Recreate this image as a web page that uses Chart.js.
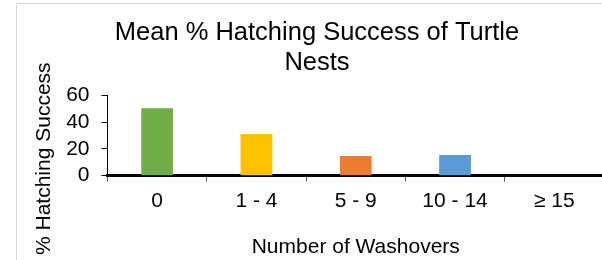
<!DOCTYPE html>
<html>
<head>
<meta charset="utf-8">
<script src="https://cdn.jsdelivr.net/npm/chart.js@4.4.1/dist/chart.umd.min.js"></script>
<style>
  html, body { margin: 0; padding: 0; background: #fff; overflow: hidden; width: 602px; height: 260px; }
  #frame { position: absolute; left: 16px; top: 3px; width: 620px; height: 300px; border-left: 1px solid #d9d9d9; border-top: 1px solid #d9d9d9; }
  #wrap { position: absolute; left: 17px; top: 4px; width: 600px; height: 280px; }
</style>
</head>
<body>
<div id="frame"></div>
<div id="wrap"><canvas id="c" width="600" height="280"></canvas></div>
<script>
const chartTitle = ['Mean % Hatching Success of Turtle', 'Nests'];
const categories = ['0', '1 - 4', '5 - 9', '10 - 14', '\u2265 15'];
const hatchingSuccess = [50.3, 31.1, 14.7, 15.4, 0];
const barColors = ['#70AD47', '#FFC000', '#ED7D31', '#5B9BD5', '#A5A5A5'];
const yTicks = [0, 20, 40, 60];
const xAxisTitle = 'Number of Washovers';
const yAxisTitle = '% Hatching Success';

const FONT = "'Liberation Sans', Arial, sans-serif";

const yTitlePlugin = {
  id: 'yTitle',
  afterDraw(chart) {
    const ctx = chart.ctx;
    ctx.save();
    ctx.translate(27.5, 154.7);
    ctx.rotate(-Math.PI / 2);
    ctx.font = '21px ' + FONT;
    ctx.fillStyle = '#000';
    ctx.textAlign = 'center';
    ctx.textBaseline = 'middle';
    ctx.fillText(yAxisTitle, 0, 0);
    ctx.restore();
  }
};

new Chart(document.getElementById('c'), {
  type: 'bar',
  data: {
    labels: categories,
    datasets: [{
      data: hatchingSuccess,
      backgroundColor: barColors,
      borderWidth: 0,
      barPercentage: 0.32,
      categoryPercentage: 1.0
    }]
  },
  options: {
    responsive: false,
    animation: false,
    layout: { padding: { left: 13, right: 13, top: 0, bottom: 0 } },
    plugins: {
      legend: { display: false },
      tooltip: { enabled: false },
      title: {
        display: true,
        text: chartTitle,
        color: '#000',
        font: { family: FONT, size: 25.5, weight: 'normal', lineHeight: 1.18 },
        padding: { top: 14.3, bottom: 16.8 }
      }
    },
    scales: {
      x: {
        grid: { drawOnChartArea: false, drawTicks: true, tickLength: 6, color: '#595959', offset: true },
        border: { display: true, color: '#000', width: 3 },
        ticks: { color: '#000', font: { family: FONT, size: 21 }, padding: 6.5, maxRotation: 0, autoSkip: false },
        title: { display: true, text: xAxisTitle, color: '#000', font: { family: FONT, size: 21 }, padding: { top: 0, bottom: 24.4 } },
        afterFit(scale) { scale.height = 280 - 171.7; }
      },
      y: {
        min: 0,
        max: 60,
        afterBuildTicks(scale) { scale.ticks = yTicks.map(v => ({ value: v })); },
        grid: { drawOnChartArea: false, drawTicks: true, tickLength: 6, color: '#000' },
        border: { display: true, color: '#000', width: 1 },
        ticks: { color: '#000', font: { family: FONT, size: 21, lineHeight: 1 }, padding: 12, autoSkip: false },
        afterFit(scale) { scale.width = 77.5; }
      }
    }
  },
  plugins: [yTitlePlugin]
});
</script>
</body>
</html>
